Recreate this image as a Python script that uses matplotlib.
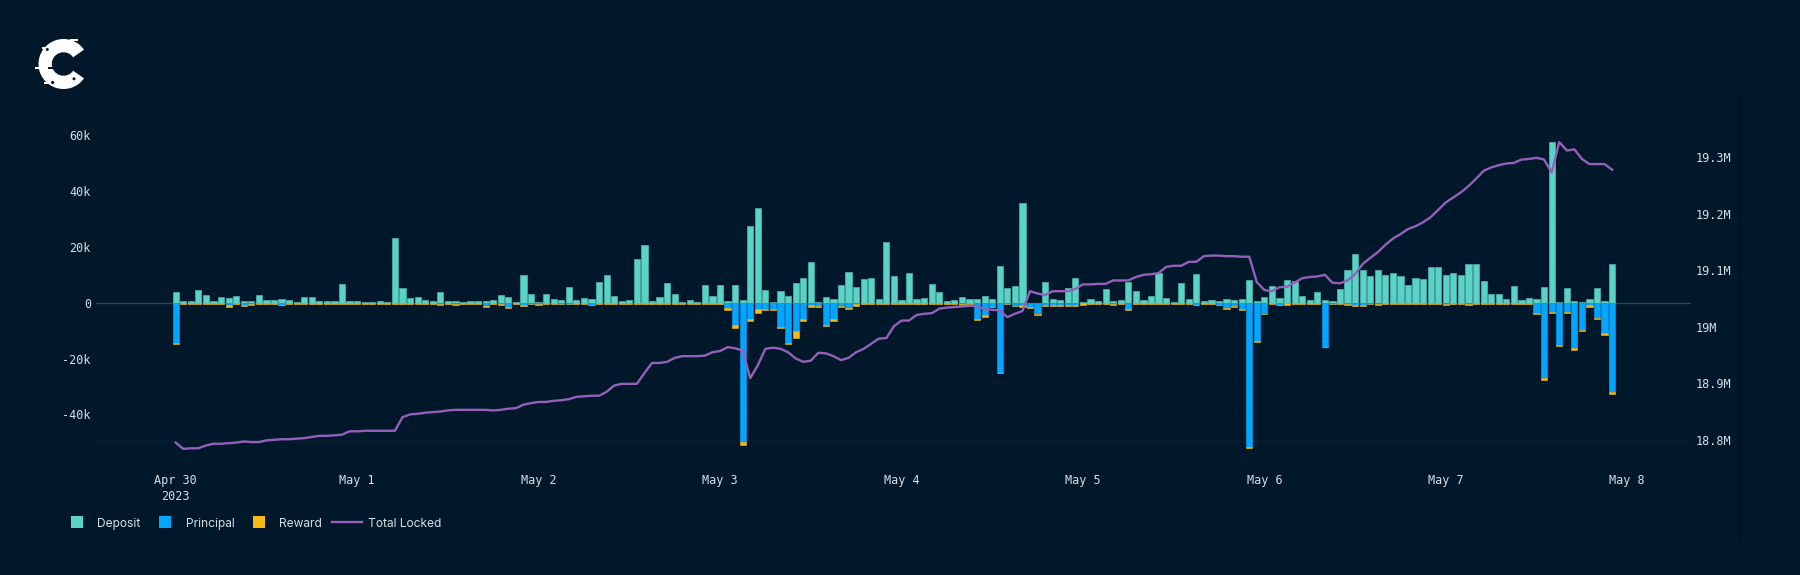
"""Hourly flows (deposit / principal / reward) with total locked on a second axis."""

import matplotlib
matplotlib.use("Agg")
import matplotlib.dates as mdates
import matplotlib.pyplot as plt
from matplotlib.patches import Circle, Rectangle, Wedge
from matplotlib.ticker import FuncFormatter, MultipleLocator
import pandas as pd

# ----------------------------------------------------------------------------
# Data (k for the bars, M for the line)
# ----------------------------------------------------------------------------
deposit = [
    3.7, .5, .5, 4.4, 2.7, .5, 2.0, 1.8, 2.3, .6,
    .6, 2.7, 1.1, 1.1, 1.5, .8, .4, 2.0, 2.0, .5,
    .5, .5, 6.7, .5, .5, .2, .2, .5, .2, 23.0,
    5.4, 1.7, 1.9, .8, .6, 3.7, .6, .7, .2, .6,
    .6, .6, .8, 2.9, 1.9, .2, 9.9, 3.1, .2, 3.0,
    1.3, .8, 5.6, .8, 1.8, 1.2, 7.3, 9.8, 2.3, .5,
    .8, 15.8, 20.6, .6, 1.9, 6.9, 3.1, .2, .8, .2,
    6.3, 2.3, 6.3, .7, 6.5, .9, 27.3, 33.9, 4.5, .2,
    4.2, 2.4, 7.0, 8.9, 14.5, .2, 2.0, 1.5, 6.3, 11.1,
    5.7, 8.6, 8.8, 1.2, 21.8, 9.5, .9, 10.5, 1.5, 1.7,
    6.7, 3.7, .5, .8, 2.0, 1.5, 1.5, 2.4, 1.2, 13.3,
    5.2, 6.0, 35.6, 0, 0, 7.5, 1.3, .8, 5.4, 8.7,
    .2, 1.4, .6, 4.9, .6, 1.0, 7.4, 4.3, 1.0, 2.4,
    10.8, 1.7, .2, 7.0, 1.3, 10.2, .6, .8, .6, 1.5,
    1.1, 1.3, 8.1, .6, 2.0, 6.0, 1.7, 8.1, 7.6, 2.4,
    1.0, 3.7, 1.1, .6, 4.8, 11.7, 17.4, 11.7, 9.6, 11.8,
    9.8, 10.7, 9.4, 6.3, 8.7, 8.5, 12.9, 12.7, 9.9, 10.5,
    10.0, 13.7, 13.8, 7.6, 3.0, 3.2, 1.4, 5.8, .8, 1.7,
    1.3, 5.7, 57.5, .2, 5.2, .7, .2, 1.3, 5.1, .7,
    13.8,
]
principal = [
    -14.6, 0, 0, 0, -.2, 0, 0, -.9, 0, -.8,
    -.5, -.2, -.2, 0, -.7, 0, 0, 0, 0, 0,
    0, 0, 0, 0, 0, 0, 0, 0, 0, 0,
    0, 0, 0, -.2, -.2, -.5, -.2, -.3, -.1, -.2,
    -.2, -1.1, -.2, -.4, -1.6, -.2, -1.0, -.4, -.3, -.2,
    -.2, -.3, -.3, -.2, -.2, -.8, 0, 0, 0, 0,
    0, -.2, -.2, -.2, -.2, -.2, -.2, 0, 0, 0,
    0, 0, 0, -1.9, -8.1, -49.9, -5.9, -2.1, -2.4, -2.3,
    -8.6, -14.4, -10.0, -5.8, -.9, -1.2, -7.9, -5.9, -1.2, -1.9,
    -.5, -.1, -.2, -.2, -.2, -.2, -.2, -.2, -.2, -.2,
    -.2, -.2, 0, 0, -.5, 0, -5.7, -4.5, -1.5, -25.1,
    -.3, -1.1, -.9, -1.7, -4.1, -.9, -.9, -.9, -.9, -.9,
    -.2, -.2, -.2, 0, -.3, -.2, -2.3, 0, 0, 0,
    -.2, 0, 0, -.2, 0, -.7, -.2, -.2, -.7, -1.9,
    -1.2, -2.3, -51.8, -13.7, -3.9, -.2, -.7, -.2, -.2, -.2,
    -.2, -.2, -15.7, -.4, -.2, -.4, -1.0, -1.0, -.3, -.4,
    -.2, -.2, 0, 0, 0, 0, -.2, -.2, -.3, -.2,
    -.2, -.3, -.2, -.2, -.2, 0, -.2, 0, 0, -.2,
    -3.6, -27.1, -3.2, -15.2, -3.4, -16.2, -9.8, -1.0, -5.3, -10.8,
    -31.8,
]
reward = [
    -.3, -.4, -.4, -.4, -.3, -.4, -.4, -.5, -.4, -.3,
    -.3, -.2, -.1, -.4, -.2, -.4, -.4, -.4, -.4, -.4,
    -.4, -.4, -.4, -.4, -.4, -.4, -.4, -.4, -.4, -.4,
    -.4, -.4, -.4, -.2, -.2, -.2, -.2, -.4, -.2, -.1,
    -.1, -.3, -.2, -.3, -.4, -.1, -.3, -.2, -.5, -.1,
    -.1, -.3, -.3, -.1, -.1, -.2, -.4, -.4, -.4, -.4,
    -.4, -.2, -.2, -.2, -.2, -.2, -.2, -.4, -.4, -.4,
    -.4, -.4, -.4, -.6, -.9, -1.0, -.5, -1.6, -.3, -.2,
    -.6, -.3, -2.6, -.6, -.5, -.3, -.3, -.6, -.3, -.3,
    -.6, -.5, -.3, -.1, -.2, -.2, -.2, -.2, -.2, -.4,
    -.4, -.2, -.5, -.5, -.2, -.5, -.6, -.6, -.2, -.2,
    -.3, -.2, -.5, -.2, -.2, -.2, -.2, -.2, -.2, -.2,
    -.6, -.2, -.2, -.5, -.4, -.2, -.2, -.5, -.5, -.5,
    -.2, -.5, -.5, -.2, -.5, -.2, -.2, -.4, -.2, -.2,
    -.2, -.2, -.2, -.2, -.2, -.2, -.2, -.5, -.2, -.2,
    -.2, -.2, -.2, -.2, -.2, -.3, -.3, -.3, -.2, -.3,
    -.2, -.2, -.4, -.4, -.4, -.4, -.2, -.2, -.4, -.2,
    -.2, -.4, -.2, -.2, -.2, -.4, -.2, -.4, -.4, -.2,
    -.4, -.6, -.6, -.3, -.3, -.6, -.3, -.5, -.4, -.9,
    -.9,
]
total_locked = [
    18.795, 18.784, 18.785, 18.785, 18.790, 18.793, 18.793, 18.794, 18.795, 18.797,
    18.796, 18.796, 18.799, 18.800, 18.801, 18.801, 18.802, 18.803, 18.805, 18.807,
    18.807, 18.808, 18.809, 18.815, 18.815, 18.816, 18.816, 18.816, 18.816, 18.816,
    18.840, 18.845, 18.846, 18.848, 18.849, 18.850, 18.852, 18.853, 18.853, 18.853,
    18.853, 18.853, 18.852, 18.853, 18.855, 18.856, 18.862, 18.865, 18.867, 18.867,
    18.869, 18.870, 18.872, 18.876, 18.877, 18.878, 18.878, 18.885, 18.896, 18.899,
    18.899, 18.899, 18.918, 18.936, 18.936, 18.938, 18.945, 18.948, 18.948, 18.948,
    18.949, 18.955, 18.957, 18.964, 18.962, 18.958, 18.909, 18.932, 18.961, 18.963,
    18.961, 18.955, 18.944, 18.938, 18.940, 18.954, 18.953, 18.948, 18.941, 18.945,
    18.955, 18.961, 18.970, 18.979, 18.980, 19.001, 19.011, 19.011, 19.021, 19.023,
    19.024, 19.032, 19.034, 19.035, 19.036, 19.037, 19.037, 19.031, 19.030, 19.029,
    19.017, 19.023, 19.028, 19.063, 19.059, 19.056, 19.063, 19.063, 19.063, 19.067,
    19.075, 19.075, 19.076, 19.076, 19.082, 19.082, 19.082, 19.088, 19.092, 19.093,
    19.095, 19.106, 19.108, 19.108, 19.115, 19.115, 19.125, 19.126, 19.126, 19.125,
    19.125, 19.124, 19.124, 19.079, 19.065, 19.063, 19.070, 19.071, 19.078, 19.086,
    19.088, 19.089, 19.092, 19.078, 19.077, 19.082, 19.093, 19.111, 19.122, 19.132,
    19.145, 19.156, 19.164, 19.173, 19.178, 19.185, 19.194, 19.207, 19.220, 19.229,
    19.238, 19.249, 19.262, 19.276, 19.282, 19.286, 19.289, 19.290, 19.296, 19.297,
    19.299, 19.296, 19.273, 19.327, 19.312, 19.314, 19.297, 19.288, 19.288, 19.288,
    19.278,
]
hours = pd.date_range("2023-04-30", periods=len(deposit), freq="h")
day_labels = ["Apr 30\n2023", "May 1", "May 2", "May 3", "May 4", "May 5", "May 6", "May 7", "May 8"]
day_ticks = pd.date_range("2023-04-30", periods=len(day_labels), freq="D")
left_ticks = [-40, -20, 0, 20, 40, 60]
right_ticks = [18.8, 18.9, 19.0, 19.1, 19.2, 19.3]
right_labels = ["18.8M", "18.9M", "19M", "19.1M", "19.2M", "19.3M"]

# ----------------------------------------------------------------------------
# Style
# ----------------------------------------------------------------------------
W, H = 1800, 575
BG = "#01182a"
TEAL = "#5ad2c7"
BLUE = "#03a5ff"
GOLD = "#f8ba15"
PURPLE = "#9560ba"
TEXT = "#d6dee6"
MONO = "DejaVu Sans Mono"
BAR_WIDTH = 6.2 / 181.4  # in days

plt.rcParams["font.family"] = ["Inter", "DejaVu Sans"]

fig = plt.figure(figsize=(W / 100, H / 100), dpi=100, facecolor=BG)

# plot box, in pixels of the reference
L, R, T, B = 96, 1691, 101, 465
ax = fig.add_axes([L / W, 1 - B / H, (R - L) / W, (B - T) / H], facecolor=BG)
ax2 = ax.twinx()

# --- bars ---
ax.bar(hours, deposit, width=BAR_WIDTH, color=TEAL, edgecolor="#4fb5b0", linewidth=0.5, zorder=3)
ax.bar(hours, principal, width=BAR_WIDTH, color=BLUE, edgecolor="#0a94e4", linewidth=0.5, zorder=3)
ax.bar(hours, reward, width=BAR_WIDTH, bottom=principal, color=GOLD,
       edgecolor="#dfa815", linewidth=0.5, zorder=4)
ax.axhline(0, color="#3a4248", linewidth=1, zorder=2)

# --- line ---
ax2.plot(hours, total_locked, color=PURPLE, linewidth=1.7, solid_joinstyle="round", zorder=5)

# --- axes ---
ax.set_xlim(mdates.date2num(hours[0]) - 10.54 / 24, mdates.date2num(hours[0]) + 200.43 / 24)
ax.set_ylim(-58.1, 72.2)
ax2.set_ylim(18.7554, 19.3996)

ax.set_xticks(day_ticks)
ax.set_xticklabels(day_labels, linespacing=1.3)
ax.set_yticks(left_ticks)
ax.yaxis.set_major_formatter(FuncFormatter(lambda v, _: f"{v:g}k" if v else "0"))
ax.yaxis.set_minor_locator(MultipleLocator(10))
ax2.set_yticks(right_ticks)
ax2.set_yticklabels(right_labels)

ax.tick_params(axis="x", length=0, pad=6.5, labelsize=8.5, labelcolor=TEXT)
ax.tick_params(axis="y", which="both", length=0, pad=3.6, labelsize=8.5, labelcolor=TEXT)
ax2.tick_params(axis="y", length=0, pad=3.6, labelsize=8.5, labelcolor=TEXT)
for lab in ax.get_xticklabels() + ax.get_yticklabels() + ax2.get_yticklabels():
    lab.set_fontfamily(MONO)

ax.grid(True, axis="y", which="both", color="white", alpha=0.018, linewidth=1, zorder=0)
ax2.grid(True, axis="y", color="white", alpha=0.018, linewidth=1)
ax.set_axisbelow(True)
for a in (ax, ax2):
    for spine in a.spines.values():
        spine.set_visible(False)
ax2.patch.set_visible(False)

# ----------------------------------------------------------------------------
# Overlay in pixel coordinates: logo, legend, right frame line
# ----------------------------------------------------------------------------
ov = fig.add_axes([0, 0, 1, 1], facecolor="none")
ov.set_xlim(0, W)
ov.set_ylim(H, 0)
ov.axis("off")

ov.plot([1740, 1740], [97, 541], color="#011421", linewidth=1.5)

# logo: open ring with a few specks and glitch ticks
ov.add_patch(Wedge((63.5, 64), 25, 35, 325, width=13.3, facecolor="white", edgecolor="none"))
for cx, cy, r in [(47.3, 49.5, 1.5), (52.7, 82.5, 1.6), (74, 78.8, 1.5)]:
    ov.add_patch(Circle((cx, cy), r, facecolor=BG, edgecolor="none"))
ov.add_patch(Rectangle((48, 67), 5, 1.6, facecolor=BG, edgecolor="none"))
ov.add_patch(Rectangle((35, 66.8), 5, 2, facecolor="white", edgecolor="none"))
ov.add_patch(Rectangle((42, 47), 4, 2, facecolor="white", edgecolor="none"))
ov.add_patch(Rectangle((44, 82), 6, 2, facecolor="white", edgecolor="none"))
ov.add_patch(Rectangle((70, 38.5), 8, 2, facecolor="white", edgecolor="none"))

# legend
for x, color, label, tx in [(71, TEAL, "Deposit", 97), (159, BLUE, "Principal", 186), (253, GOLD, "Reward", 279)]:
    ov.add_patch(Rectangle((x, 516), 12, 12, facecolor=color, edgecolor="none"))
    ov.text(tx, 527, label, color=TEXT, fontsize=8.6, va="baseline", ha="left")
ov.plot([332, 362], [521.5, 521.5], color=PURPLE, linewidth=1.7)
ov.text(367.5, 527, "Total Locked", color=TEXT, fontsize=8.6, va="baseline", ha="left")

fig.savefig("out.png", dpi=100, facecolor=BG)
plt.close(fig)
